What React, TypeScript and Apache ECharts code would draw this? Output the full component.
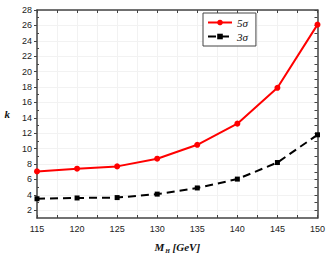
import React, { useEffect, useRef } from "react";
import * as echarts from "echarts";

const massValues = [115, 120, 125, 130, 135, 140, 145, 150];
const k5sigma = [7.05, 7.4, 7.7, 8.7, 10.5, 13.25, 17.9, 26.1];
const k3sigma = [3.5, 3.6, 3.65, 4.1, 4.9, 6.05, 8.2, 11.8];
const yMajorTicks = [2, 4, 6, 8, 10, 12, 14, 16, 18, 20, 22, 24, 26, 28];
const yMinorTicks = [3, 5, 7, 9, 11, 13, 15, 17, 19, 21, 23, 25, 27];
const yAllTicks = [2, 3, 4, 5, 6, 7, 8, 9, 10, 11, 12, 13, 14, 15, 16, 17, 18, 19, 20, 21, 22, 23, 24, 25, 26, 27, 28];

export default function App() {
  const ref = useRef<HTMLDivElement>(null);
  useEffect(() => {
    if (!ref.current) return;
    const chart = echarts.init(ref.current, null, { renderer: "svg" });
    const axisColor = "#444";
    const serif = "'Liberation Serif', 'DejaVu Serif', serif";
    const sans = "'Liberation Sans', Arial, sans-serif";
    chart.setOption({
      animation: false,
      grid: { left: 37, right: 10, top: 10, bottom: 39 },
      legend: {
        left: 203,
        top: 13,
        orient: "vertical",
        backgroundColor: "#fff",
        borderColor: "#444",
        borderWidth: 1,
        borderRadius: 0,
        padding: [4, 8, 4, 4],
        itemGap: 3,
        itemWidth: 24,
        itemHeight: 7,
        textStyle: { fontFamily: serif, fontStyle: "italic", fontSize: 11, color: "#111" },
        data: ["5σ", "3σ"],
      },
      xAxis: [
        {
          type: "value",
          min: 115,
          max: 150,
          interval: 2.5,
          position: "bottom",
          axisLine: { lineStyle: { color: axisColor, width: 1.5 } },
          axisTick: { inside: true, length: 3, lineStyle: { color: axisColor } },
          splitLine: { show: true, lineStyle: { color: "#f2f2f2", width: 1 } },
          axisLabel: {
            fontFamily: sans,
            fontSize: 9,
            color: "#222",
            margin: 6,
            formatter: (v: number) => (v % 5 === 0 ? String(v) : ""),
          },
          name: "{m|M}{s|H}{g| [GeV]}",
          nameLocation: "middle",
          nameGap: 22,
          nameTextStyle: {
            rich: {
              m: { fontFamily: serif, fontStyle: "italic", fontWeight: "bold", fontSize: 11, color: "#111" },
              s: { fontFamily: serif, fontStyle: "italic", fontWeight: "bold", fontSize: 6, color: "#111", verticalAlign: "bottom", padding: [8, 0, 0, 1] },
              g: { fontFamily: serif, fontStyle: "italic", fontWeight: "bold", fontSize: 11, color: "#111" },
            },
          },
        },
        {
          type: "value",
          min: 115,
          max: 150,
          interval: 2.5,
          position: "top",
          axisLine: { lineStyle: { color: axisColor, width: 1.5 } },
          axisTick: { inside: true, length: 3, lineStyle: { color: axisColor } },
          splitLine: { show: false },
          axisLabel: { show: false },
        },
      ],
      yAxis: [
        {
          type: "value",
          min: 1,
          max: 28,
          position: "left",
          axisLine: { show: true, lineStyle: { color: axisColor, width: 1.5 } },
          axisTick: { show: true, inside: false, length: 3, customValues: yMajorTicks, lineStyle: { color: axisColor } },
          splitLine: { show: true, lineStyle: { color: "#f2f2f2", width: 1 } },
          axisLabel: { fontFamily: sans, fontSize: 9, color: "#222", margin: 5, customValues: yMajorTicks },
          name: "k",
          nameLocation: "middle",
          nameRotate: 0,
          nameGap: 27,
          nameTextStyle: { fontFamily: serif, fontStyle: "italic", fontWeight: "bold", fontSize: 11, color: "#111", padding: [20, 0, 0, 0] },
        },
        {
          type: "value",
          min: 1,
          max: 28,
          position: "left",
          axisLine: { show: false },
          axisTick: { show: true, inside: true, length: 2, customValues: yMinorTicks, lineStyle: { color: axisColor } },
          splitLine: { show: false },
          axisLabel: { show: false },
        },
        {
          type: "value",
          min: 1,
          max: 28,
          position: "right",
          axisLine: { show: true, lineStyle: { color: axisColor, width: 1.5 } },
          axisTick: { show: true, inside: true, length: 3, customValues: yAllTicks, lineStyle: { color: axisColor } },
          splitLine: { show: false },
          axisLabel: { show: false },
        },
      ],
      series: [
        {
          name: "5σ",
          type: "line",
          data: massValues.map((m, i) => [m, k5sigma[i]]),
          symbol: "circle",
          symbolSize: 6,
          lineStyle: { color: "#ff0000", width: 2 },
          itemStyle: { color: "#ff0000" },
          z: 3,
        },
        {
          name: "3σ",
          type: "line",
          data: massValues.map((m, i) => [m, k3sigma[i]]),
          symbol: "rect",
          symbolSize: 5,
          lineStyle: { color: "#000", width: 2, type: [8, 5] },
          itemStyle: { color: "#000" },
          z: 2,
        },
      ],
    });
    return () => chart.dispose();
  }, []);
  return <div ref={ref} style={{ width: 328, height: 259, position: "absolute", left: 0, top: 0 }} />;
}
